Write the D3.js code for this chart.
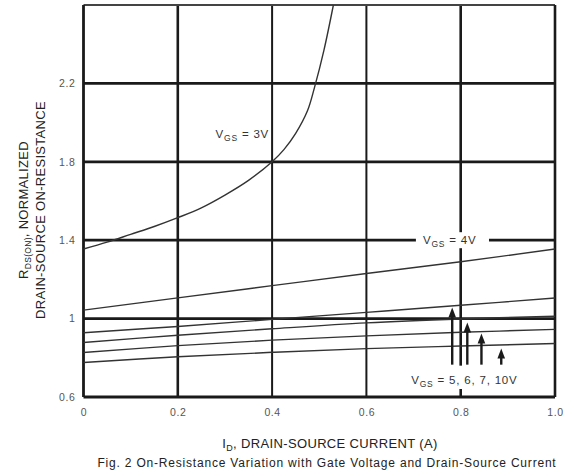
<!DOCTYPE html>
<html>
<head>
<meta charset="utf-8">
<script src="https://cdn.jsdelivr.net/npm/d3@7"></script>
<style>
  body { margin: 0; background: #fff; }
  svg { font-family: "Liberation Sans", Arial, sans-serif; }
</style>
</head>
<body>
<svg width="571" height="475"></svg>
<script>
// axis ticks
const X_TICKS = [0, 0.2, 0.4, 0.6, 0.8, 1.0];
const X_LABELS = ["0", "0.2", "0.4", "0.6", "0.8", "1.0"];
const Y_TICKS = [0.6, 1.0, 1.4, 1.8, 2.2];
const Y_LABELS = ["0.6", "1", "1.4", "1.8", "2.2"];

// VGS = 3V curve
const ID_3V = [0, 0.05, 0.1, 0.15, 0.2, 0.25, 0.3, 0.35, 0.4, 0.425, 0.45, 0.475, 0.49, 0.51, 0.53];
const R_3V = [1.355, 1.39, 1.43, 1.47, 1.515, 1.565, 1.63, 1.705, 1.8, 1.862, 1.945, 2.06, 2.18, 2.37, 2.6];

// other gate voltages, sampled every 0.2 A
const ID_STEP = [0, 0.2, 0.4, 0.6, 0.8, 1.0];
const R_4V = [1.043, 1.106, 1.168, 1.23, 1.29, 1.355];
const R_5V = [0.928, 0.96, 0.996, 1.032, 1.068, 1.105];
const R_6V = [0.878, 0.915, 0.948, 0.978, 0.998, 1.012];
const R_7V = [0.827, 0.862, 0.89, 0.912, 0.93, 0.945];
const R_10V = [0.776, 0.805, 0.828, 0.847, 0.86, 0.873];

// pointer arrows for 5, 6, 7, 10V
const ARROW_ID = [0.782, 0.814, 0.844, 0.886];
const ARROW_TIP = [1.057, 0.98, 0.924, 0.847];
const ARROW_BASE = 0.765;

let svg = d3.select("svg");

let x = d3.scaleLinear().domain([0, 1]).range([83.5, 555]);
let y = d3.scaleLinear().domain([0.6, 2.6]).range([397, 5]);

let ink = "#1a1a1a";

// grid
let grid = svg.append("g").attr("class", "grid");
grid.selectAll("line.v")
  .data(X_TICKS.slice(1, 5))
  .enter()
  .append("line")
  .attr("x1", d => x(d)).attr("x2", d => x(d))
  .attr("y1", y(2.6)).attr("y2", y(0.6))
  .attr("stroke", ink)
  .attr("stroke-width", d => (d == 0.4 || d == 0.6) ? 2 : 2.6);

grid.selectAll("line.h")
  .data(Y_TICKS.slice(1))
  .enter()
  .append("line")
  .attr("x1", x(0)).attr("x2", x(1))
  .attr("y1", d => y(d)).attr("y2", d => y(d))
  .attr("stroke", ink)
  .attr("stroke-width", 2.8);

// frame
grid.append("line").attr("x1", x(0)).attr("x2", x(1)).attr("y1", y(2.6)).attr("y2", y(2.6))
  .attr("stroke", "#444").attr("stroke-width", 1.8);
grid.append("line").attr("x1", x(0)).attr("x2", x(1)).attr("y1", y(0.6)).attr("y2", y(0.6))
  .attr("stroke", ink).attr("stroke-width", 2.8);
grid.append("line").attr("x1", x(0)).attr("x2", x(0)).attr("y1", y(2.6)).attr("y2", y(0.6))
  .attr("stroke", ink).attr("stroke-width", 2.8);
grid.append("line").attr("x1", x(1)).attr("x2", x(1)).attr("y1", y(2.6)).attr("y2", y(0.6))
  .attr("stroke", ink).attr("stroke-width", 2.6);

// axes labels
let xAxis = svg.append("g")
  .attr("transform", "translate(0," + y(0.6) + ")")
  .call(d3.axisBottom(x).tickValues(X_TICKS).tickFormat((d, i) => X_LABELS[i]).tickSize(0).tickPadding(12));
xAxis.select(".domain").remove();

let yAxis = svg.append("g")
  .attr("transform", "translate(" + x(0) + ",0)")
  .call(d3.axisLeft(y).tickValues(Y_TICKS).tickFormat((d, i) => Y_LABELS[i]).tickSize(0).tickPadding(8));
yAxis.select(".domain").remove();

svg.selectAll(".tick text")
  .attr("fill", "#555")
  .style("font-size", "10.5px")
  .style("letter-spacing", "0.6px")
  .style("font-family", "'Liberation Sans', Arial, sans-serif");

// curves
let line = d3.line()
  .x(d => x(d[0]))
  .y(d => y(d[1]))
  .curve(d3.curveCatmullRom.alpha(0.5));

let series = [
  d3.zip(ID_3V, R_3V),
  d3.zip(ID_STEP, R_4V),
  d3.zip(ID_STEP, R_5V),
  d3.zip(ID_STEP, R_6V),
  d3.zip(ID_STEP, R_7V),
  d3.zip(ID_STEP, R_10V)
];

svg.append("g")
  .selectAll("path")
  .data(series)
  .enter()
  .append("path")
  .attr("d", line)
  .attr("fill", "none")
  .attr("stroke", "#333")
  .attr("stroke-width", 1.4);

// arrows
let arrows = svg.append("g").selectAll("g")
  .data(d3.zip(ARROW_ID, ARROW_TIP))
  .enter()
  .append("g");

arrows.append("line")
  .attr("x1", d => x(d[0])).attr("x2", d => x(d[0]))
  .attr("y1", y(ARROW_BASE)).attr("y2", d => y(d[1]) + 6)
  .attr("stroke", ink)
  .attr("stroke-width", 2.4);

arrows.append("path")
  .attr("d", d => {
    let cx = x(d[0]), ty = y(d[1]);
    return "M" + cx + "," + ty + "L" + (cx - 3.8) + "," + (ty + 10) + "L" + (cx + 3.8) + "," + (ty + 10) + "Z";
  })
  .attr("fill", ink);

// curve labels
function vgsLabel(px, py, rest) {
  let t = svg.append("text")
    .attr("x", px).attr("y", py)
    .attr("fill", "#333")
    .style("font-size", "11.5px")
    .style("letter-spacing", "0.8px");
  t.append("tspan").text("V");
  t.append("tspan").attr("dy", 3).style("font-size", "8.5px").text("GS");
  t.append("tspan").attr("dy", -3).text(" = " + rest);
  return t;
}

vgsLabel(x(0.28), y(1.945) + 5, "3V");

// white gap in the 1.4 gridline for the 4V label
svg.append("rect")
  .attr("x", x(0.705)).attr("y", y(1.4) - 8)
  .attr("width", x(0.86) - x(0.705)).attr("height", 16)
  .attr("fill", "#fff");
vgsLabel(x(0.72), y(1.4) + 4, "4V");

// white gap in the 0.8 gridline for the bottom label
svg.append("rect")
  .attr("x", x(0.69)).attr("y", y(ARROW_BASE) + 1)
  .attr("width", x(0.94) - x(0.69)).attr("height", y(0.6) - y(ARROW_BASE) - 9)
  .attr("fill", "#fff");
vgsLabel(x(0.695), y(0.6) - 13, "5, 6, 7, 10V");

// axis titles
let xt = svg.append("text")
  .attr("x", 330).attr("y", 448)
  .attr("text-anchor", "middle")
  .attr("fill", "#222")
  .style("font-size", "13px")
  .style("letter-spacing", "0.35px");
xt.append("tspan").text("I");
xt.append("tspan").attr("dy", 3).style("font-size", "9px").text("D");
xt.append("tspan").attr("dy", -3).text(", DRAIN-SOURCE CURRENT (A)");

svg.append("text")
  .attr("x", 327).attr("y", 467)
  .attr("text-anchor", "middle")
  .attr("fill", "#222")
  .style("font-size", "12px")
  .style("letter-spacing", "0.8px")
  .text("Fig. 2  On-Resistance Variation with Gate Voltage and Drain-Source Current");

let yt1 = svg.append("text")
  .attr("transform", "translate(28,210) rotate(-90)")
  .attr("text-anchor", "middle")
  .attr("fill", "#222")
  .style("font-size", "13px")
  .style("letter-spacing", "0.3px");
yt1.append("tspan").text("R");
yt1.append("tspan").attr("dy", 2.5).style("font-size", "8.5px").text("DS(ON)");
yt1.append("tspan").attr("dy", -2.5).text(", NORMALIZED");

svg.append("text")
  .attr("transform", "translate(45,210) rotate(-90)")
  .attr("text-anchor", "middle")
  .attr("fill", "#222")
  .style("font-size", "13px")
  .style("letter-spacing", "0.3px")
  .text("DRAIN-SOURCE ON-RESISTANCE");
</script>
</body>
</html>
